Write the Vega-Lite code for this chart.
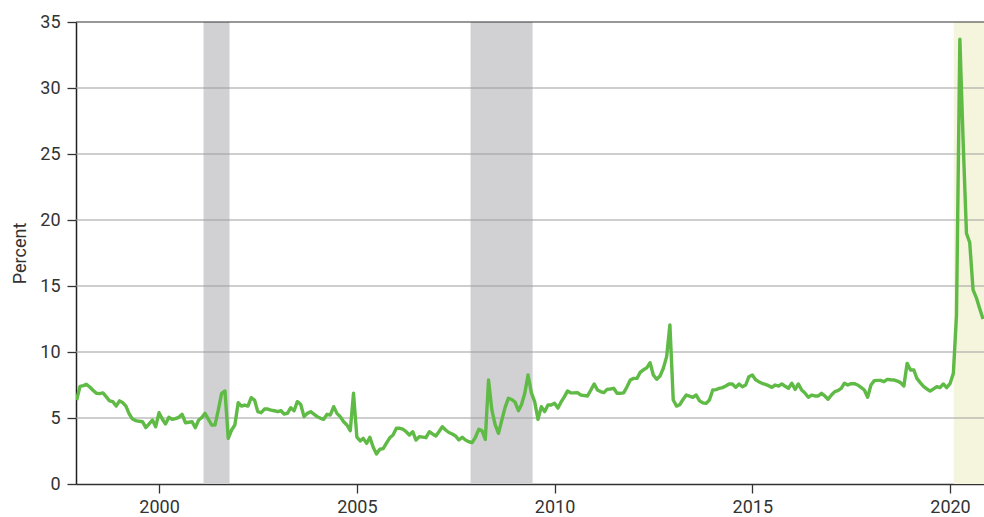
{
  "$schema": "https://vega.github.io/schema/vega-lite/v6.json",
  "width": 908,
  "height": 462,
  "autosize": {"type": "none"},
  "padding": {"left": 76, "top": 22, "right": 0, "bottom": 33},
  "background": "white",
  "config": {"view": {"stroke": null}, "font": "Roboto"},
  "datasets": {
    "shades": [
      {"start": "2001-02-15", "end": "2001-10-13", "kind": "recession"},
      {"start": "2007-11-17", "end": "2009-06-12", "kind": "recession"},
      {"start": "2020-02-05", "end": "2020-12-31", "kind": "pandemic"}
    ],
    "grid": [{"g": 5}, {"g": 10}, {"g": 15}, {"g": 20}, {"g": 25}, {"g": 30}, {"g": 35}],
    "psr": [
      {"date": "1997-12-01", "value": 6.36},
      {"date": "1998-01-01", "value": 7.4}, {"date": "1998-02-01", "value": 7.45}, {"date": "1998-03-01", "value": 7.55}, {"date": "1998-04-01", "value": 7.35}, {"date": "1998-05-01", "value": 7.1}, {"date": "1998-06-01", "value": 6.87}, {"date": "1998-07-01", "value": 6.85}, {"date": "1998-08-01", "value": 6.9}, {"date": "1998-09-01", "value": 6.6}, {"date": "1998-10-01", "value": 6.3}, {"date": "1998-11-01", "value": 6.24}, {"date": "1998-12-01", "value": 5.9},
      {"date": "1999-01-01", "value": 6.3}, {"date": "1999-02-01", "value": 6.15}, {"date": "1999-03-01", "value": 5.9}, {"date": "1999-04-01", "value": 5.3}, {"date": "1999-05-01", "value": 4.92}, {"date": "1999-06-01", "value": 4.8}, {"date": "1999-07-01", "value": 4.75}, {"date": "1999-08-01", "value": 4.72}, {"date": "1999-09-01", "value": 4.27}, {"date": "1999-10-01", "value": 4.55}, {"date": "1999-11-01", "value": 4.85}, {"date": "1999-12-01", "value": 4.34},
      {"date": "2000-01-01", "value": 5.4}, {"date": "2000-02-01", "value": 4.9}, {"date": "2000-03-01", "value": 4.55}, {"date": "2000-04-01", "value": 5.05}, {"date": "2000-05-01", "value": 4.9}, {"date": "2000-06-01", "value": 4.95}, {"date": "2000-07-01", "value": 5.05}, {"date": "2000-08-01", "value": 5.28}, {"date": "2000-09-01", "value": 4.64}, {"date": "2000-10-01", "value": 4.68}, {"date": "2000-11-01", "value": 4.72}, {"date": "2000-12-01", "value": 4.27},
      {"date": "2001-01-01", "value": 4.85}, {"date": "2001-02-01", "value": 5.05}, {"date": "2001-03-01", "value": 5.35}, {"date": "2001-04-01", "value": 4.9}, {"date": "2001-05-01", "value": 4.47}, {"date": "2001-06-01", "value": 4.47}, {"date": "2001-07-01", "value": 5.6}, {"date": "2001-08-01", "value": 6.87}, {"date": "2001-09-01", "value": 7.05}, {"date": "2001-10-01", "value": 3.46}, {"date": "2001-11-01", "value": 4.09}, {"date": "2001-12-01", "value": 4.47},
      {"date": "2002-01-01", "value": 6.16}, {"date": "2002-02-01", "value": 5.9}, {"date": "2002-03-01", "value": 5.98}, {"date": "2002-04-01", "value": 5.9}, {"date": "2002-05-01", "value": 6.54}, {"date": "2002-06-01", "value": 6.36}, {"date": "2002-07-01", "value": 5.48}, {"date": "2002-08-01", "value": 5.4}, {"date": "2002-09-01", "value": 5.68}, {"date": "2002-10-01", "value": 5.68}, {"date": "2002-11-01", "value": 5.6}, {"date": "2002-12-01", "value": 5.55},
      {"date": "2003-01-01", "value": 5.48}, {"date": "2003-02-01", "value": 5.55}, {"date": "2003-03-01", "value": 5.3}, {"date": "2003-04-01", "value": 5.35}, {"date": "2003-05-01", "value": 5.78}, {"date": "2003-06-01", "value": 5.55}, {"date": "2003-07-01", "value": 6.24}, {"date": "2003-08-01", "value": 6.04}, {"date": "2003-09-01", "value": 5.1}, {"date": "2003-10-01", "value": 5.35}, {"date": "2003-11-01", "value": 5.48}, {"date": "2003-12-01", "value": 5.3},
      {"date": "2004-01-01", "value": 5.1}, {"date": "2004-02-01", "value": 4.98}, {"date": "2004-03-01", "value": 4.9}, {"date": "2004-04-01", "value": 5.28}, {"date": "2004-05-01", "value": 5.23}, {"date": "2004-06-01", "value": 5.86}, {"date": "2004-07-01", "value": 5.35}, {"date": "2004-08-01", "value": 5.1}, {"date": "2004-09-01", "value": 4.72}, {"date": "2004-10-01", "value": 4.47}, {"date": "2004-11-01", "value": 4.04}, {"date": "2004-12-01", "value": 6.87},
      {"date": "2005-01-01", "value": 3.55}, {"date": "2005-02-01", "value": 3.26}, {"date": "2005-03-01", "value": 3.46}, {"date": "2005-04-01", "value": 3.08}, {"date": "2005-05-01", "value": 3.54}, {"date": "2005-06-01", "value": 2.78}, {"date": "2005-07-01", "value": 2.27}, {"date": "2005-08-01", "value": 2.63}, {"date": "2005-09-01", "value": 2.68}, {"date": "2005-10-01", "value": 3.1}, {"date": "2005-11-01", "value": 3.5}, {"date": "2005-12-01", "value": 3.71},
      {"date": "2006-01-01", "value": 4.22}, {"date": "2006-02-01", "value": 4.22}, {"date": "2006-03-01", "value": 4.15}, {"date": "2006-04-01", "value": 3.96}, {"date": "2006-05-01", "value": 3.71}, {"date": "2006-06-01", "value": 3.96}, {"date": "2006-07-01", "value": 3.33}, {"date": "2006-08-01", "value": 3.59}, {"date": "2006-09-01", "value": 3.55}, {"date": "2006-10-01", "value": 3.51}, {"date": "2006-11-01", "value": 3.96}, {"date": "2006-12-01", "value": 3.79},
      {"date": "2007-01-01", "value": 3.64}, {"date": "2007-02-01", "value": 4.0}, {"date": "2007-03-01", "value": 4.34}, {"date": "2007-04-01", "value": 4.09}, {"date": "2007-05-01", "value": 3.9}, {"date": "2007-06-01", "value": 3.79}, {"date": "2007-07-01", "value": 3.64}, {"date": "2007-08-01", "value": 3.33}, {"date": "2007-09-01", "value": 3.54}, {"date": "2007-10-01", "value": 3.33}, {"date": "2007-11-01", "value": 3.2}, {"date": "2007-12-01", "value": 3.13},
      {"date": "2008-01-01", "value": 3.54}, {"date": "2008-02-01", "value": 4.14}, {"date": "2008-03-01", "value": 4.04}, {"date": "2008-04-01", "value": 3.38}, {"date": "2008-05-01", "value": 7.88}, {"date": "2008-06-01", "value": 5.6}, {"date": "2008-07-01", "value": 4.5}, {"date": "2008-08-01", "value": 3.84}, {"date": "2008-09-01", "value": 4.85}, {"date": "2008-10-01", "value": 5.8}, {"date": "2008-11-01", "value": 6.5}, {"date": "2008-12-01", "value": 6.4},
      {"date": "2009-01-01", "value": 6.2}, {"date": "2009-02-01", "value": 5.55}, {"date": "2009-03-01", "value": 6.0}, {"date": "2009-04-01", "value": 6.87}, {"date": "2009-05-01", "value": 8.26}, {"date": "2009-06-01", "value": 6.9}, {"date": "2009-07-01", "value": 6.24}, {"date": "2009-08-01", "value": 4.9}, {"date": "2009-09-01", "value": 5.86}, {"date": "2009-10-01", "value": 5.48}, {"date": "2009-11-01", "value": 5.98}, {"date": "2009-12-01", "value": 5.98},
      {"date": "2010-01-01", "value": 6.11}, {"date": "2010-02-01", "value": 5.75}, {"date": "2010-03-01", "value": 6.2}, {"date": "2010-04-01", "value": 6.6}, {"date": "2010-05-01", "value": 7.05}, {"date": "2010-06-01", "value": 6.9}, {"date": "2010-07-01", "value": 6.9}, {"date": "2010-08-01", "value": 6.92}, {"date": "2010-09-01", "value": 6.74}, {"date": "2010-10-01", "value": 6.7}, {"date": "2010-11-01", "value": 6.67}, {"date": "2010-12-01", "value": 7.1},
      {"date": "2011-01-01", "value": 7.58}, {"date": "2011-02-01", "value": 7.12}, {"date": "2011-03-01", "value": 7.0}, {"date": "2011-04-01", "value": 6.92}, {"date": "2011-05-01", "value": 7.17}, {"date": "2011-06-01", "value": 7.2}, {"date": "2011-07-01", "value": 7.25}, {"date": "2011-08-01", "value": 6.87}, {"date": "2011-09-01", "value": 6.87}, {"date": "2011-10-01", "value": 6.9}, {"date": "2011-11-01", "value": 7.37}, {"date": "2011-12-01", "value": 7.88},
      {"date": "2012-01-01", "value": 8.0}, {"date": "2012-02-01", "value": 8.0}, {"date": "2012-03-01", "value": 8.45}, {"date": "2012-04-01", "value": 8.65}, {"date": "2012-05-01", "value": 8.8}, {"date": "2012-06-01", "value": 9.19}, {"date": "2012-07-01", "value": 8.26}, {"date": "2012-08-01", "value": 7.93}, {"date": "2012-09-01", "value": 8.18}, {"date": "2012-10-01", "value": 8.76}, {"date": "2012-11-01", "value": 9.65}, {"date": "2012-12-01", "value": 12.05},
      {"date": "2013-01-01", "value": 6.36}, {"date": "2013-02-01", "value": 5.9}, {"date": "2013-03-01", "value": 6.0}, {"date": "2013-04-01", "value": 6.4}, {"date": "2013-05-01", "value": 6.74}, {"date": "2013-06-01", "value": 6.65}, {"date": "2013-07-01", "value": 6.57}, {"date": "2013-08-01", "value": 6.74}, {"date": "2013-09-01", "value": 6.3}, {"date": "2013-10-01", "value": 6.15}, {"date": "2013-11-01", "value": 6.11}, {"date": "2013-12-01", "value": 6.36},
      {"date": "2014-01-01", "value": 7.12}, {"date": "2014-02-01", "value": 7.15}, {"date": "2014-03-01", "value": 7.25}, {"date": "2014-04-01", "value": 7.3}, {"date": "2014-05-01", "value": 7.42}, {"date": "2014-06-01", "value": 7.58}, {"date": "2014-07-01", "value": 7.58}, {"date": "2014-08-01", "value": 7.32}, {"date": "2014-09-01", "value": 7.58}, {"date": "2014-10-01", "value": 7.37}, {"date": "2014-11-01", "value": 7.5}, {"date": "2014-12-01", "value": 8.13},
      {"date": "2015-01-01", "value": 8.26}, {"date": "2015-02-01", "value": 7.9}, {"date": "2015-03-01", "value": 7.75}, {"date": "2015-04-01", "value": 7.63}, {"date": "2015-05-01", "value": 7.55}, {"date": "2015-06-01", "value": 7.45}, {"date": "2015-07-01", "value": 7.32}, {"date": "2015-08-01", "value": 7.5}, {"date": "2015-09-01", "value": 7.42}, {"date": "2015-10-01", "value": 7.58}, {"date": "2015-11-01", "value": 7.4}, {"date": "2015-12-01", "value": 7.25},
      {"date": "2016-01-01", "value": 7.63}, {"date": "2016-02-01", "value": 7.17}, {"date": "2016-03-01", "value": 7.58}, {"date": "2016-04-01", "value": 7.12}, {"date": "2016-05-01", "value": 6.9}, {"date": "2016-06-01", "value": 6.57}, {"date": "2016-07-01", "value": 6.74}, {"date": "2016-08-01", "value": 6.67}, {"date": "2016-09-01", "value": 6.67}, {"date": "2016-10-01", "value": 6.87}, {"date": "2016-11-01", "value": 6.67}, {"date": "2016-12-01", "value": 6.42},
      {"date": "2017-01-01", "value": 6.74}, {"date": "2017-02-01", "value": 7.0}, {"date": "2017-03-01", "value": 7.07}, {"date": "2017-04-01", "value": 7.25}, {"date": "2017-05-01", "value": 7.63}, {"date": "2017-06-01", "value": 7.5}, {"date": "2017-07-01", "value": 7.6}, {"date": "2017-08-01", "value": 7.6}, {"date": "2017-09-01", "value": 7.5}, {"date": "2017-10-01", "value": 7.32}, {"date": "2017-11-01", "value": 7.12}, {"date": "2017-12-01", "value": 6.57},
      {"date": "2018-01-01", "value": 7.5}, {"date": "2018-02-01", "value": 7.83}, {"date": "2018-03-01", "value": 7.85}, {"date": "2018-04-01", "value": 7.85}, {"date": "2018-05-01", "value": 7.75}, {"date": "2018-06-01", "value": 7.93}, {"date": "2018-07-01", "value": 7.9}, {"date": "2018-08-01", "value": 7.88}, {"date": "2018-09-01", "value": 7.8}, {"date": "2018-10-01", "value": 7.68}, {"date": "2018-11-01", "value": 7.42}, {"date": "2018-12-01", "value": 9.14},
      {"date": "2019-01-01", "value": 8.64}, {"date": "2019-02-01", "value": 8.64}, {"date": "2019-03-01", "value": 8.0}, {"date": "2019-04-01", "value": 7.68}, {"date": "2019-05-01", "value": 7.4}, {"date": "2019-06-01", "value": 7.2}, {"date": "2019-07-01", "value": 7.05}, {"date": "2019-08-01", "value": 7.2}, {"date": "2019-09-01", "value": 7.37}, {"date": "2019-10-01", "value": 7.3}, {"date": "2019-11-01", "value": 7.58}, {"date": "2019-12-01", "value": 7.3},
      {"date": "2020-01-01", "value": 7.6}, {"date": "2020-02-01", "value": 8.38}, {"date": "2020-03-01", "value": 12.8}, {"date": "2020-04-01", "value": 33.7}, {"date": "2020-05-01", "value": 26.0}, {"date": "2020-06-01", "value": 19.0}, {"date": "2020-07-01", "value": 18.3}, {"date": "2020-08-01", "value": 14.7}, {"date": "2020-09-01", "value": 14.1}, {"date": "2020-10-01", "value": 13.3}, {"date": "2020-11-01", "value": 12.5}
    ]
  },
  "layer": [
    {
      "data": {"name": "shades"},
      "mark": {"type": "rect", "clip": true},
      "encoding": {
        "x": {
          "field": "start",
          "type": "temporal",
          "scale": {
            "type": "utc",
            "domain": [
              {"year": 1997, "month": "Nov", "date": 25, "utc": true},
              {"year": 2020, "month": "Nov", "date": 10, "utc": true}
            ]
          },
          "axis": {
            "title": null,
            "values": [
              {"year": 2000, "month": "Jan", "date": 1, "utc": true},
              {"year": 2005, "month": "Jan", "date": 1, "utc": true},
              {"year": 2010, "month": "Jan", "date": 1, "utc": true},
              {"year": 2015, "month": "Jan", "date": 1, "utc": true},
              {"year": 2020, "month": "Jan", "date": 1, "utc": true}
            ],
            "format": "%Y",
            "formatType": "utc",
            "grid": false,
            "domainColor": "#333333",
            "domainWidth": 1.5,
            "tickColor": "#333333",
            "tickWidth": 1.3,
            "tickSize": 9,
            "labelPadding": 5,
            "labelFont": "Roboto",
            "labelFontSize": 18,
            "labelColor": "#333333"
          }
        },
        "x2": {"field": "end"},
        "color": {
          "field": "kind",
          "type": "nominal",
          "scale": {"domain": ["recession", "pandemic"], "range": ["#d1d1d4", "#f5f5dd"]},
          "legend": null
        }
      }
    },
    {
      "data": {"name": "grid"},
      "mark": {"type": "rule", "strokeWidth": 1.2},
      "encoding": {
        "y": {"field": "g", "type": "quantitative"},
        "color": {
          "condition": {"test": "datum.g === 35", "value": "#333333"},
          "value": "#9e9e9e"
        }
      }
    },
    {
      "data": {"name": "psr"},
      "mark": {"type": "line", "color": "#5fba46", "strokeWidth": 3.4, "clip": true, "strokeJoin": "round"},
      "encoding": {
        "x": {"field": "date", "type": "temporal"},
        "y": {
          "field": "value",
          "type": "quantitative",
          "scale": {"domain": [0, 35], "nice": false, "zero": true},
          "axis": {
            "title": "Percent",
            "values": [0, 5, 10, 15, 20, 25, 30, 35],
            "grid": false,
            "domainColor": "#231f20",
            "domainWidth": 1.5,
            "tickColor": "#333333",
            "tickWidth": 1.3,
            "tickSize": 9,
            "labelPadding": 7,
            "labelFont": "Roboto",
            "labelFontSize": 18,
            "labelColor": "#333333",
            "titleFont": "Roboto",
            "titleFontSize": 18,
            "titleFontWeight": "normal",
            "titleColor": "#333333",
            "titlePadding": 10
          }
        }
      }
    }
  ]
}
